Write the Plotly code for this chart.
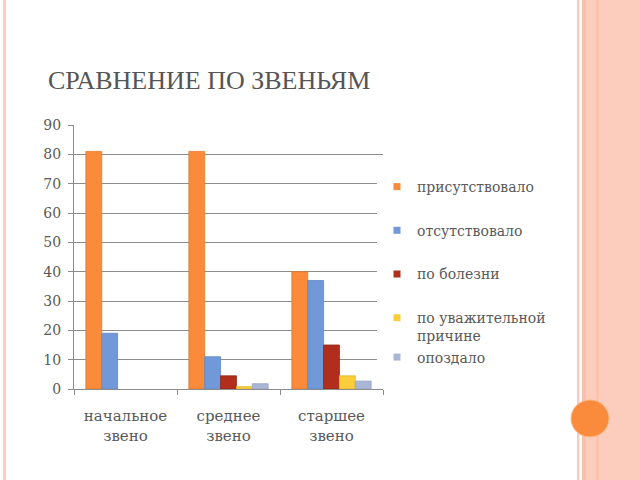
import plotly.graph_objects as go

categories = ["начальное<br>звено", "среднее<br>звено", "старшее<br>звено"]
series_names = ["присутствовало", "отсутствовало", "по болезни",
                "по уважительной<br>причине", "опоздало"]
present = [81, 81, 40]
absent = [19, 11, 37]
illness = [0, 4.5, 15]
valid_reason = [0, 0.8, 4.5]
late = [0, 1.8, 2.7]
y_ticks = [0, 10, 20, 30, 40, 50, 60, 70, 80, 90]

colors = ["#F98B3A", "#7199D9", "#B22E1C", "#F9CE3A", "#A9B6D6"]
edges = ["#E07A2E", "#5F86C4", "#8E2416", "#E0B830", "#95A3C4"]
values = [present, absent, illness, valid_reason, late]
legend_groups = ["g0", "g1", "g2", "g3", "g3"]

SERIF = "Liberation Serif, DejaVu Serif, Times New Roman, serif"
SERIF2 = "DejaVu Serif, Liberation Serif, serif"

fig = go.Figure()
for name, vals, c, e in zip(series_names, values, colors, edges):
    fig.add_trace(go.Bar(x=categories, y=vals, name=name, showlegend=False,
                         marker=dict(color=c, line=dict(color=e,
                                     width=[0 if v == 0 else 0.8 for v in vals]))))
for name, c, g in zip(series_names, colors, legend_groups):
    fig.add_trace(go.Scatter(x=[None], y=[None], mode="markers", name=name,
                             legendgroup=g,
                             marker=dict(symbol="square", size=7, color=c)))

ml, mr, mt, mb = 74, 257, 125, 91
W, H = 640 - ml - mr, 480 - mt - mb
def px(x):
    return (x - ml) / W
def py(y):
    return (480 - mb - y) / H

shapes = [
    dict(type="rect", xref="paper", yref="paper", x0=px(3), x1=px(6), y0=py(480), y1=py(0),
         fillcolor="#F8CFC2", line=dict(width=0), layer="below"),
    dict(type="rect", xref="paper", yref="paper", x0=px(577), x1=px(579.5), y0=py(480), y1=py(0),
         fillcolor="#F9CDBE", line=dict(width=0), layer="below"),
    dict(type="rect", xref="paper", yref="paper", x0=px(582), x1=px(640), y0=py(480), y1=py(0),
         fillcolor="#FCCDBC", line=dict(width=0), layer="below"),
    dict(type="rect", xref="paper", yref="paper", x0=px(582), x1=px(586), y0=py(480), y1=py(0),
         fillcolor="#F8BFAB", line=dict(width=0), layer="below"),
    dict(type="rect", xref="paper", yref="paper", x0=px(596), x1=px(599), y0=py(480), y1=py(0),
         fillcolor="#F9C3B0", line=dict(width=0), layer="below"),
    dict(type="circle", xref="paper", yref="paper", x0=px(571), x1=px(609), y0=py(437), y1=py(400),
         fillcolor="#FA8A3C", line=dict(color="#FDB887", width=1)),
]

fig.update_layout(
    width=640, height=480,
    margin=dict(l=ml, r=mr, t=mt, b=mb),
    paper_bgcolor="white", plot_bgcolor="white",
    barmode="group", bargap=0.23, bargroupgap=0,
    font=dict(family=SERIF2, size=14, color="#595959"),
    showlegend=True,
    legend=dict(x=px(377), y=py(171), xanchor="left", yanchor="top",
                tracegroupgap=22.5, valign="top",
                font=dict(family=SERIF2, size=14, color="#595959")),
    shapes=shapes,
    annotations=[dict(text="СРАВНЕНИЕ ПО ЗВЕНЬЯМ", xref="paper", yref="paper",
                      x=px(46), y=py(81), xanchor="left", yanchor="middle",
                      showarrow=False,
                      font=dict(family=SERIF, size=26, color="#555555"))],
)
fig.update_xaxes(showline=True, linecolor="#8C8C8C", linewidth=1,
                 ticks="outside", tickson="boundaries", ticklen=5, tickcolor="#8C8C8C",
                 showgrid=False, ticklabelstandoff=13, tickfont=dict(size=15))
fig.update_yaxes(range=[0, 90], tickvals=y_ticks, showline=True, linecolor="#8C8C8C",
                 linewidth=1, ticks="outside", ticklen=5, tickcolor="#8C8C8C",
                 gridcolor="#8C8C8C", gridwidth=1, zeroline=False, ticklabelstandoff=4)

fig.write_html("out.html", config={"displayModeBar": False},
               post_script="document.body.style.margin='0';document.body.style.padding='0';")
